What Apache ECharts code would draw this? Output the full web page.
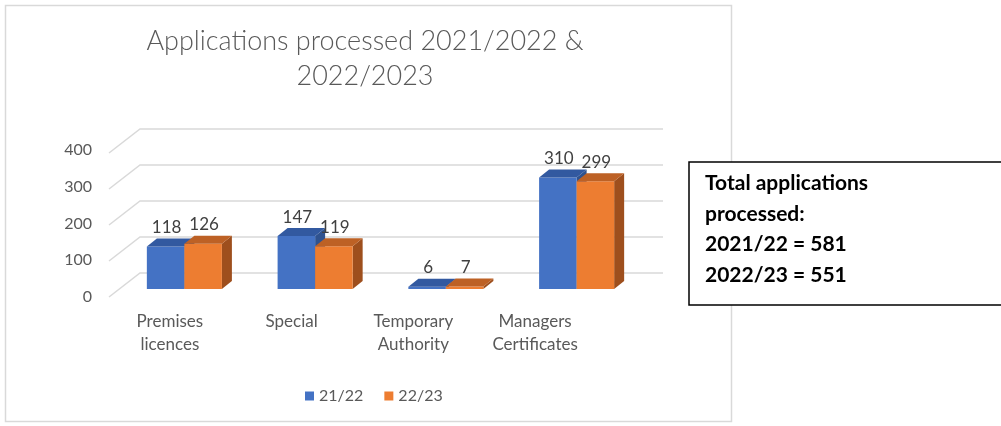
<!DOCTYPE html>
<html><head><meta charset="utf-8">
<script src="https://cdn.jsdelivr.net/npm/echarts/dist/echarts.min.js"></script>
<style>html,body{margin:0;padding:0;background:#fff}#c{width:1001px;height:426px}</style>
</head><body><div id="c"></div>
<script>
const categories = ['Premises\nlicences', 'Special', 'Temporary\nAuthority', 'Managers\nCertificates'];
const seriesNames = ['21/22', '22/23'];
const values2122 = [118, 147, 6, 310];
const values2223 = [126, 119, 7, 299];
const yTicks = [0, 100, 200, 300, 400];
const titleText = 'Applications processed 2021/2022 &\n2022/2023';

const FONT = 'Lato, "Open Sans", sans-serif';
const total2122 = values2122.reduce((a, b) => a + b, 0);
const total2223 = values2223.reduce((a, b) => a + b, 0);

const palette = [
  { front: '#4472c4', top: '#3259a0', side: '#2f528f' },
  { front: '#ed7d31', top: '#bd6125', side: '#9e4f1d' }
];

function barRenderer(sIdx) {
  return function (params, api) {
    const i = api.value(0), v = api.value(1);
    const topP = api.coord([i, v]);
    const baseP = api.coord([i, 0]);
    const bw = api.size([1, 0])[0] * 0.287;
    const L = sIdx === 0 ? topP[0] - bw : topP[0];
    const R = L + bw;
    const t = topP[1], b = baseP[1];
    const dx = 10, dy = -8;
    const c = palette[sIdx];
    return {
      type: 'group',
      children: [
        { type: 'polygon', shape: { points: [[R, t], [R + dx, t + dy], [R + dx, b + dy], [R, b]] }, style: { fill: c.side } },
        { type: 'rect', shape: { x: L, y: t, width: bw, height: b - t }, style: { fill: c.front } },
        { type: 'polygon', shape: { points: [[L, t], [L + dx, t + dy], [R + dx, t + dy], [R, t]] }, style: { fill: c.top } },
        { type: 'text', style: { text: String(v), x: (L + R) / 2 + 1, y: t - 19, align: 'center', verticalAlign: 'middle', fontSize: 17, fontFamily: FONT, fill: '#404040' } }
      ]
    };
  };
}

const chart = echarts.init(document.getElementById('c'));
chart.setOption({
  animation: false,
  backgroundColor: '#fff',
  title: {
    text: titleText, left: 365, top: 24, padding: 0, textAlign: 'center',
    textStyle: { fontFamily: FONT, fontSize: 27, fontWeight: 300, color: '#595959', lineHeight: 35 }
  },
  legend: {
    data: seriesNames, left: 300, top: 383, icon: 'rect', itemWidth: 9, itemHeight: 9, itemGap: 21,
    textStyle: { fontFamily: FONT, fontSize: 16, color: '#595959', padding: [0, 0, 0, 0] }
  },
  grid: [
    { left: 109, top: 150, width: 487, height: 147 },
    { left: 119, top: 145, width: 523, height: 144 }
  ],
  xAxis: [
    { gridIndex: 0, type: 'category', data: categories, axisLine: { show: false }, axisTick: { show: false },
      axisLabel: { color: '#595959', fontSize: 17, fontFamily: FONT, margin: 13, lineHeight: 23, interval: 0 } },
    { gridIndex: 1, type: 'category', data: categories, show: false }
  ],
  yAxis: [
    { gridIndex: 0, type: 'value', min: 0, max: 400, interval: 100, splitLine: { show: false },
      axisLine: { show: false }, axisTick: { show: false },
      axisLabel: { color: '#595959', fontSize: 16, fontFamily: FONT, margin: 17 } },
    { gridIndex: 1, type: 'value', min: 0, max: 400, interval: 100, show: false }
  ],
  graphic: [
    { type: 'rect', z: -10, shape: { x: 5.5, y: 5.5, width: 726, height: 416 }, style: { fill: 'none', stroke: '#d9d9d9', lineWidth: 1.5 }, silent: true },
    { type: 'group', z: 100, children: [
      { type: 'rect', shape: { x: 689, y: 162, width: 330, height: 143 }, style: { fill: '#fff', stroke: '#000', lineWidth: 1.5 } },
      { type: 'text', style: { text: 'Total applications', x: 705, y: 183, verticalAlign: 'middle', fontSize: 21, fontWeight: 'bold', fontFamily: FONT, fill: '#000' } },
      { type: 'text', style: { text: 'processed:', x: 705, y: 214, verticalAlign: 'middle', fontSize: 21, fontWeight: 'bold', fontFamily: FONT, fill: '#000' } },
      { type: 'text', style: { text: '2021/22 = ' + total2122, x: 705, y: 244, verticalAlign: 'middle', fontSize: 21, fontWeight: 'bold', fontFamily: FONT, fill: '#000' } },
      { type: 'text', style: { text: '2022/23 = ' + total2223, x: 705, y: 275, verticalAlign: 'middle', fontSize: 21, fontWeight: 'bold', fontFamily: FONT, fill: '#000' } }
    ] }
  ],
  series: [
    {
      type: 'custom', name: 'grid-wall', xAxisIndex: 1, yAxisIndex: 1, silent: true, z: 1,
      data: yTicks.map(v => [0, v]),
      renderItem: function (params, api) {
        const cs = params.coordSys;
        const y = api.coord([0, api.value(1)])[1];
        const x0 = cs.x;
        return { type: 'polyline', shape: { points: [[x0 - 10, y + 8], [x0 + 21, y - 16], [x0 + cs.width + 21, y - 16]] },
          style: { stroke: '#d9d9d9', lineWidth: 1.5, fill: null } };
      }
    },
    { type: 'custom', name: seriesNames[0], xAxisIndex: 1, yAxisIndex: 1, z: 2, itemStyle: { color: palette[0].front },
      data: values2122.map((v, i) => [i, v]), renderItem: barRenderer(0) },
    { type: 'custom', name: seriesNames[1], xAxisIndex: 1, yAxisIndex: 1, z: 3, itemStyle: { color: palette[1].front },
      data: values2223.map((v, i) => [i, v]), renderItem: barRenderer(1) }
  ]
});
</script>
</body></html>
